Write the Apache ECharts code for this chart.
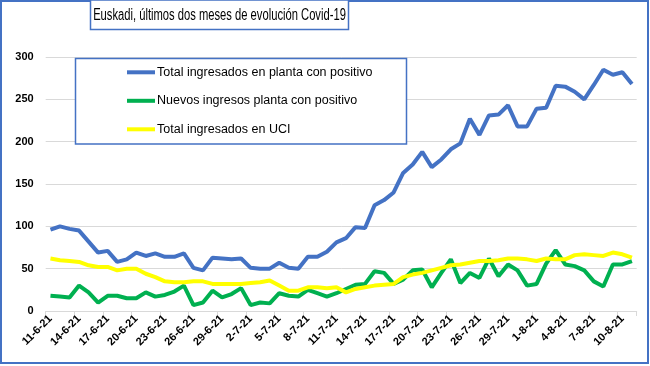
<!DOCTYPE html>
<html>
<head>
<meta charset="utf-8">
<script src="https://cdn.jsdelivr.net/npm/echarts@6/dist/echarts.min.js"></script>
<style>html,body{margin:0;padding:0;background:#fff}#c{width:650px;height:366px}</style>
</head>
<body>
<div id="c"></div>
<script>
// Dates 11-6-21 .. 11-8-21
const categories = (function(){
  const out = [];
  for (let d = 11; d <= 30; d++) out.push(d + '-6-21');
  for (let d = 1; d <= 31; d++) out.push(d + '-7-21');
  for (let d = 1; d <= 11; d++) out.push(d + '-8-21');
  return out;
})();
const totalPlanta = [96,100,97,95,82,69,71,58,61,69,65,68,64,64,68,51,48,63,62,61,62,51,50,50,57,51,50,64,64,70,81,86,99,98,125,131,140,163,173,188,170,179,191,198,227,208,231,232,243,218,218,239,240,266,265,259,250,267,285,279,282,268];
const nuevosPlanta = [18,17,16,30,22,10,18,18,15,15,22,17,19,23,30,7,10,24,16,20,27,7,10,9,21,18,17,25,21,17,21,26,31,32,47,45,32,37,48,49,28,45,61,33,45,39,62,41,55,48,30,32,56,72,55,53,48,35,29,55,55,59];
const totalUCI = [62,60,59,58,54,52,52,48,50,50,44,40,35,34,34,35,35,32,32,32,32,33,34,36,30,24,24,28,28,27,28,22,26,28,30,31,32,40,43,45,48,51,54,55,57,59,59,60,62,62,61,59,62,61,61,66,67,66,65,69,67,63];
const seriesNames = ['Total ingresados en planta con positivo','Nuevos ingresos planta con positivo','Total ingresados en UCI'];
const titleText = 'Euskadi, últimos dos meses de evolución Covid-19';

const fam = "'Liberation Sans', Arial, sans-serif";
const chart = echarts.init(document.getElementById('c'), null, {renderer:'canvas'});
chart.setOption({
  animation: false,
  backgroundColor: '#fff',
  grid: {left: 45.7, right: 13.3, top: 57, bottom: 55, containLabel: false},
  xAxis: {
    type: 'category', data: categories, boundaryGap: true,
    axisLine: {lineStyle: {color: '#d9d9d9', width: 1}},
    axisTick: {show: true, interval: 2, length: 5, lineStyle: {color: '#d9d9d9'}},
    axisLabel: {interval: 2, rotate: 45, margin: 6, fontSize: 11, fontWeight: 'bold', color: '#000', fontFamily: fam},
    splitLine: {show: false}
  },
  yAxis: {
    type: 'value', min: 0, max: 300, interval: 50,
    axisLine: {show: false}, axisTick: {show: false},
    axisLabel: {fontSize: 11, fontWeight: 'bold', color: '#000', margin: 12, fontFamily: fam},
    splitLine: {lineStyle: {color: '#d9d9d9', width: 1}}
  },
  legend: {
    orient: 'vertical', left: 127, top: 64.3, padding: 0, itemGap: 12.5,
    icon: 'rect', itemWidth: 28, itemHeight: 4, z: 10,
    textStyle: {fontSize: 12.5, lineHeight: 16, color: '#000', fontFamily: fam, padding: [0,0,0,-3]},
    data: seriesNames
  },
  graphic: [
    {type: 'rect', z: 100, silent: true, shape: {x: 1, y: 1, width: 647, height: 362}, style: {fill: 'none', stroke: '#4472C4', lineWidth: 2}},
    {type: 'rect', z: 100, silent: true, shape: {x: 90.5, y: 0, width: 258, height: 29.5}, style: {fill: '#fff', stroke: '#4472C4', lineWidth: 1.5}},
    {type: 'text', z: 101, silent: true, x: 219.5, y: 16, scaleX: 0.7, style: {text: titleText, fill: '#000', font: "16px " + fam, textAlign: 'center', textVerticalAlign: 'middle'}},
    {type: 'rect', z: 3, silent: true, shape: {x: 75.5, y: 58.5, width: 331, height: 85.5}, style: {fill: '#fff', stroke: '#4472C4', lineWidth: 1.5}}
  ],
  series: [
    {name: seriesNames[0], type: 'line', data: totalPlanta, showSymbol: false, symbol: 'none', lineStyle: {color: '#4472C4', width: 4}, itemStyle: {color: '#4472C4'}, z: 4},
    {name: seriesNames[1], type: 'line', data: nuevosPlanta, showSymbol: false, symbol: 'none', lineStyle: {color: '#00B050', width: 4}, itemStyle: {color: '#00B050'}, z: 4},
    {name: seriesNames[2], type: 'line', data: totalUCI, showSymbol: false, symbol: 'none', lineStyle: {color: '#FFFF00', width: 4}, itemStyle: {color: '#FFFF00'}, z: 4}
  ]
});
</script>
</body>
</html>
